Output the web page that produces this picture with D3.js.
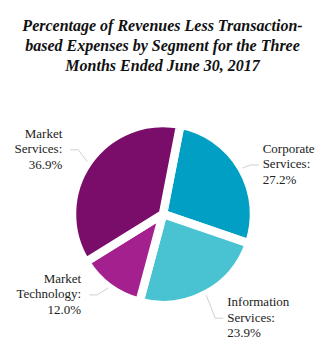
<!DOCTYPE html>
<html>
<head>
<meta charset="utf-8">
<script src="https://cdn.jsdelivr.net/npm/d3@7/dist/d3.min.js"></script>
<style>
  html, body { margin: 0; padding: 0; background: #fff; }
  svg { display: block; }
</style>
</head>
<body>
<svg id="chart" width="325" height="358"></svg>
<script>
// Segment shares of revenues less transaction-based expenses, Q2 2017
const segments = ["Corporate Services", "Information Services", "Market Technology", "Market Services"];
const labelLines = [["Corporate", "Services:"], ["Information", "Services:"], ["Market", "Technology:"], ["Market", "Services:"]];
const shares = [27.2, 23.9, 12.0, 36.9];
const colors = ["#009fc3", "#49c2d2", "#a3208e", "#7a0d69"];
const titleLines = [
  "Percentage of Revenues Less Transaction-",
  "based Expenses by Segment for the Three",
  "Months Ended June 30, 2017"
];

// Leader-line bends (dx, dy from the slice edge) for each label
const leaderBends = [[8, -3], [9, 23], [-11, 7], [-9, -12]];

const svg = d3.select("#chart");
const W = 325;
const cx = 163, cy = 214, R = 91, gap = 8.5;
const startAngle = 11 * Math.PI / 180;

// Title
svg.append("g").selectAll("text")
  .data(titleLines)
  .join("text")
  .attr("x", W / 2)
  .attr("y", (d, i) => 31 + i * 20)
  .attr("text-anchor", "middle")
  .attr("font-family", "'Liberation Serif', 'Times New Roman', serif")
  .attr("font-weight", "bold")
  .attr("font-style", "italic")
  .attr("font-size", 16)
  .attr("fill", "#111")
  .text(d => d);

const pie = d3.pie()
  .value(d => d)
  .sort(null)
  .startAngle(startAngle)
  .endAngle(startAngle + 2 * Math.PI);

const arcs = pie(shares);

const arc = d3.arc()
  .innerRadius(0)
  .outerRadius(R);

const g = svg.append("g").attr("transform", `translate(${cx},${cy})`);

// Slices separated by a white border
g.selectAll("path.slice")
  .data(arcs)
  .join("path")
  .attr("class", "slice")
  .attr("d", arc)
  .attr("fill", (d, i) => colors[i])
  .attr("stroke", "#fff")
  .attr("stroke-width", gap)
  .attr("stroke-linejoin", "round");

// Leader lines and labels
const polar = (r, a) => [r * Math.sin(a), -r * Math.cos(a)];
const leaders = g.append("g");
arcs.forEach((d, i) => {
  const mid = (d.startAngle + d.endAngle) / 2;
  const p0 = polar(R + 1, mid);
  const p1 = [p0[0] + leaderBends[i][0], p0[1] + leaderBends[i][1]];
  const right = Math.sin(mid) > 0;
  const p2 = [p1[0] + (right ? 8 : -8), p1[1]];
  leaders.append("polyline")
    .attr("points", [p0, p1, p2].map(p => p.join(",")).join(" "))
    .attr("fill", "none")
    .attr("stroke", "#d0d0d0")
    .attr("stroke-width", 1);

  const lines = labelLines[i].concat([shares[i].toFixed(1) + "%"]);
  const tx = p2[0] + (right ? 4 : -8);
  leaders.append("g").selectAll("text")
    .data(lines)
    .join("text")
    .attr("x", tx)
    .attr("y", (t, k) => p2[1] + 3.5 + (k - 1) * 15.5)
    .attr("text-anchor", right ? "start" : "end")
    .attr("font-family", "'Liberation Serif', 'Times New Roman', serif")
    .attr("font-size", 13)
    .attr("fill", "#222")
    .text(t => t);
});
</script>
</body>
</html>
